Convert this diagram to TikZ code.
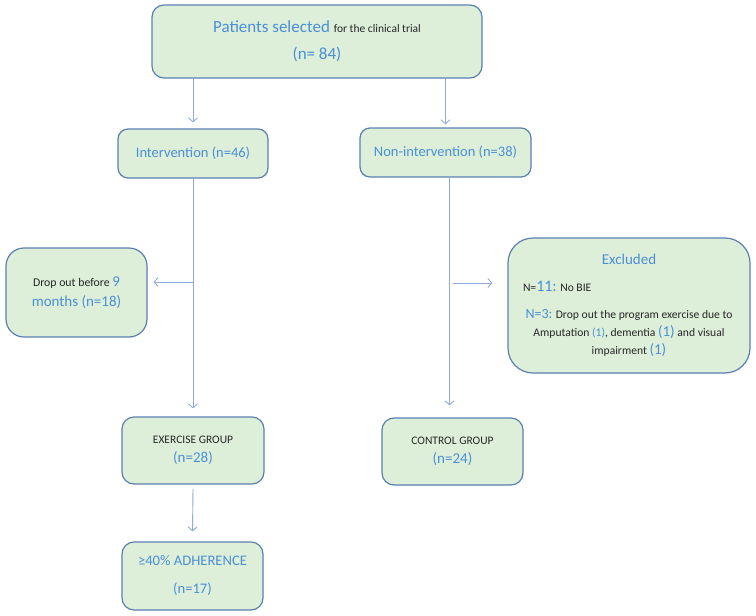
\documentclass[tikz,border=0pt]{standalone}
\usepackage{fontspec}
\setmainfont{Carlito}
\usetikzlibrary{arrows.meta}
\definecolor{boxfill}{HTML}{DEEFD9}
\definecolor{boxline}{HTML}{5A80B2}
\definecolor{arrline}{HTML}{8FAADC}
\definecolor{txtblue}{HTML}{4A8FD6}
\definecolor{txtdark}{HTML}{262626}

\begin{document}
\begin{tikzpicture}[x=1pt,y=-1pt]
\tikzstyle{every node}+=[inner sep=0pt, text=txtblue]
\tikzstyle{flowbox}=[draw=boxline, line width=1.2pt, fill=boxfill, rounded corners=10pt, align=center]
\tikzstyle{flowarrow}=[draw=arrline, line width=0.9pt, -{Straight Barb[length=4pt,width=9pt]}]
\useasboundingbox (0,0) rectangle (756,616);
% boxes
\node [flowbox, minimum width=330pt, minimum height=73pt, rounded corners=12pt, font=\fontsize{17}{27}\selectfont] (sel) at (317,41.5)
  {Patients selected {\fontsize{11.5}{13}\selectfont\color{txtdark}for the clinical trial}\\(n= 84)};
\node [flowbox, minimum width=150pt, minimum height=49pt, font=\fontsize{14.5}{16}\selectfont] (inter) at (193,153.5) {Intervention (n=46)};
\node [flowbox, minimum width=171pt, minimum height=49pt, font=\fontsize{14.5}{16}\selectfont] (nonint) at (445.5,152.5) {Non-intervention (n=38)};
\node [flowbox, minimum width=141pt, minimum height=89pt, rounded corners=18pt, text=txtdark, font=\fontsize{11.8}{20}\selectfont] (drop) at (76.5,292.5)
  {Drop out before {\fontsize{15}{20}\selectfont\color{txtblue}9}\\{\fontsize{15}{20}\selectfont\color{txtblue}months (n=18)}};
\node [flowbox, minimum width=242pt, minimum height=135pt, rounded corners=25pt, text=txtdark, font=\fontsize{11.6}{18}\selectfont] (excl) at (629,305.5)
  {{\fontsize{15}{18}\selectfont\color{txtblue}Excluded}\\[9pt]
   \makebox[212pt][l]{N={\fontsize{16}{18}\selectfont\color{txtblue}11:} No BIE}\\[9pt]
   {\fontsize{14}{18}\selectfont\color{txtblue}N=3:} Drop out the program exercise due to\\
   Amputation {\color{txtblue}(1)}, dementia {\fontsize{15}{18}\selectfont\color{txtblue}(1)} and visual\\
   impairment {\fontsize{15}{18}\selectfont\color{txtblue}(1)}};
\node [flowbox, minimum width=142pt, minimum height=67pt, rounded corners=12pt, text=txtdark, font=\fontsize{11.5}{19}\selectfont] (exer) at (193,450.5)
  {EXERCISE GROUP\\{\fontsize{15}{19}\selectfont\color{txtblue}(n=28)}};
\node [flowbox, minimum width=141pt, minimum height=67pt, rounded corners=12pt, text=txtdark, font=\fontsize{11.5}{19}\selectfont] (ctrl) at (452.5,451.5)
  {CONTROL GROUP\\{\fontsize{15}{19}\selectfont\color{txtblue}(n=24)}};
\node [flowbox, minimum width=141pt, minimum height=68pt, rounded corners=12pt, font=\fontsize{14.6}{28}\selectfont] (adh) at (192.5,576)
  {≥40\% ADHERENCE\\(n=17)};
% connectors
\coordinate (leftfork) at (193,282);
\coordinate (rightfork) at (453,283);
\draw [flowarrow] (sel.south -| inter) -- ([yshift=6pt]inter.north);
\draw [flowarrow] (sel.south -| nonint) -- ([yshift=3pt]nonint.north);
\draw [flowarrow] (inter.south) -- ([yshift=8pt]exer.north);
\draw [flowarrow] (leftfork) -- ([xshift=6pt]leftfork -| drop.east);
\draw [flowarrow] ([xshift=4pt]nonint.south) -- ([xshift=-3pt,yshift=12pt]ctrl.north);
\draw [flowarrow] (rightfork) -- ([xshift=-15pt]rightfork -| excl.west);
\draw [flowarrow] ([yshift=-4pt]exer.south) -- ([yshift=10pt]adh.north);
\end{tikzpicture}
\end{document}
